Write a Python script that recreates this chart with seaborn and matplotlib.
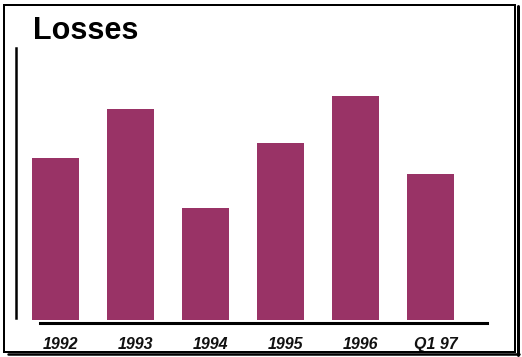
import matplotlib
matplotlib.use("Agg")
import matplotlib.pyplot as plt
import matplotlib.transforms as mtransforms
from matplotlib.patches import Rectangle
from matplotlib.lines import Line2D
import seaborn as sns
import pandas as pd

# Loss figures per period (relative units)
periods = ["1992", "1993", "1994", "1995", "1996", "Q1 97"]
losses = [162, 211, 112, 177, 224, 146]

title = "Losses"
bar_color = "#993366"

sns.set_theme(style="white")
plt.rcParams["font.family"] = ["Liberation Sans", "DejaVu Sans"]

W, H, DPI = 522, 357, 100
fig = plt.figure(figsize=(W / DPI, H / DPI), dpi=DPI)
fig.patch.set_facecolor("white")

# axes area in pixel terms
left_px, right_px, bottom_px, top_px = 16, 487, 323, 48
ax = fig.add_axes([left_px / W, 1 - bottom_px / H,
                   (right_px - left_px) / W, (bottom_px - top_px) / H])
ax.set_facecolor("white")

df = pd.DataFrame({"period": periods, "loss": losses})
sns.barplot(data=df, x="period", y="loss", color=bar_color, saturation=1,
            width=0.627, edgecolor="none", ax=ax)

unit = 75.03
x0 = (left_px - 55.75) / unit
x1 = (right_px - 55.75) / unit
ax.set_xlim(x0, x1)
ax.set_ylim(-3, 272)

for s in ["top", "right"]:
    ax.spines[s].set_visible(False)
ax.spines["left"].set_color("black")
ax.spines["left"].set_linewidth(1.8)
ax.spines["left"].set_bounds(2, 272)
ax.spines["bottom"].set_color("black")
ax.spines["bottom"].set_linewidth(2.2)
ax.spines["bottom"].set_bounds((39.5 - 55.75) / unit, x1)

ax.set_xlabel("")
ax.set_ylabel("")
ax.set_yticks([])
ax.tick_params(axis="x", length=0, pad=10)
offset = mtransforms.ScaledTranslation(5 / DPI, 0, fig.dpi_scale_trans)
for lab in ax.get_xticklabels():
    lab.set_fontsize(11.5)
    lab.set_fontweight("bold")
    lab.set_fontstyle("italic")
    lab.set_color("#111111")
    lab.set_transform(lab.get_transform() + offset)

fig.text(33 / W, 1 - 39 / H, title, fontsize=22, fontweight="bold",
         color="black", ha="left", va="baseline")

# framed border with a drop shadow on the right and bottom
px = lambda v: v * 72 / DPI
fig.patches.append(Rectangle((3.5 / W, 1 - 352 / H), (515 - 3.5) / W, (352 - 4.5) / H,
                             transform=fig.transFigure, fill=False,
                             edgecolor="black", linewidth=px(2)))
fig.lines.append(Line2D([517.5 / W, 517.5 / W], [1 - 6 / H, 1 - 355 / H],
                        transform=fig.transFigure, color="black", linewidth=px(3)))
fig.lines.append(Line2D([8 / W, 519 / W], [1 - 354 / H, 1 - 354 / H],
                        transform=fig.transFigure, color="black", linewidth=px(2.5)))

fig.savefig("out.png", dpi=DPI, facecolor="white")
